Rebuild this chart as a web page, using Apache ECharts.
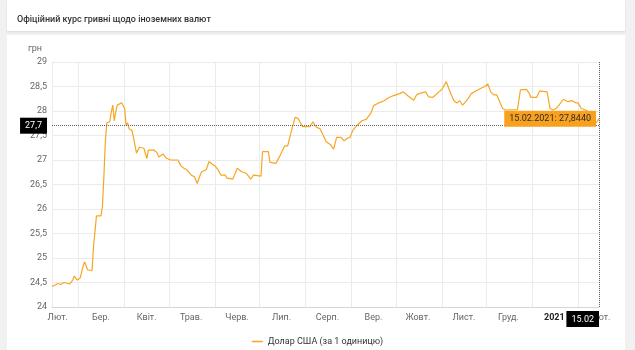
<!DOCTYPE html>
<html><head><meta charset="utf-8">
<script src="https://cdn.jsdelivr.net/npm/echarts@6/dist/echarts.min.js"></script>
<style>
html,body{margin:0;padding:0;width:635px;height:350px;background:#f1f1f1;overflow:hidden;}
.card{position:absolute;left:7px;width:618px;background:#fff;}
#c1{top:0;height:31px;box-shadow:0 1px 2px rgba(0,0,0,0.10);}
#c2{top:35px;height:315px;}
#chart{position:absolute;left:0;top:0;width:635px;height:350px;}
</style></head>
<body>
<div class="card" id="c1"></div><div class="card" id="c2"></div>
<div id="chart"></div>
<script>
const titleText = 'Офіційний курс гривні щодо іноземних валют';
const seriesName = 'Долар США (за 1 одиницю)';
const unitName = 'грн';
const monthLabels = ['Січ.','Лют.','Бер.','Квіт.','Трав.','Черв.','Лип.','Серп.','Вер.','Жовт.','Лист.','Груд.'];
const xMin = '2020-02-12';
const xMax = '2021-02-15';
const yMin = 24, yMax = 29, yStep = 0.5;
const pointerValue = 27.7;

const dates = [
'2020-02-12','2020-02-16','2020-02-18','2020-02-20','2020-02-21','2020-02-24','2020-02-26','2020-02-27','2020-02-29',
'2020-03-02','2020-03-04','2020-03-05','2020-03-07','2020-03-10','2020-03-11','2020-03-13','2020-03-16','2020-03-17',
'2020-03-18','2020-03-19','2020-03-20','2020-03-22','2020-03-23','2020-03-24','2020-03-25','2020-03-26','2020-03-27',
'2020-03-30','2020-04-01','2020-04-02','2020-04-03','2020-04-04','2020-04-06','2020-04-07','2020-04-09','2020-04-11',
'2020-04-14','2020-04-16','2020-04-17','2020-04-21','2020-04-23','2020-04-24','2020-04-27','2020-04-29','2020-05-02',
'2020-05-07','2020-05-09','2020-05-11','2020-05-13','2020-05-16','2020-05-18','2020-05-20','2020-05-22','2020-05-23',
'2020-05-26','2020-05-28','2020-05-30','2020-06-01','2020-06-03','2020-06-05','2020-06-08','2020-06-09','2020-06-13',
'2020-06-16','2020-06-19','2020-06-22','2020-06-25','2020-06-27','2020-07-02','2020-07-03','2020-07-07','2020-07-08',
'2020-07-12','2020-07-15','2020-07-18','2020-07-20','2020-07-22','2020-07-25','2020-07-27','2020-07-30','2020-08-04',
'2020-08-06','2020-08-08','2020-08-11','2020-08-15','2020-08-18','2020-08-20','2020-08-22','2020-08-25','2020-08-27',
'2020-08-29','2020-08-31','2020-09-02','2020-09-05','2020-09-08','2020-09-11','2020-09-14','2020-09-16','2020-09-19',
'2020-09-23','2020-09-26','2020-09-29','2020-10-03','2020-10-06','2020-10-09','2020-10-13','2020-10-15','2020-10-17',
'2020-10-21','2020-10-23','2020-10-26','2020-10-30','2020-11-01','2020-11-04','2020-11-06','2020-11-09','2020-11-11',
'2020-11-13','2020-11-15','2020-11-18','2020-11-21','2020-11-24','2020-11-27','2020-11-30','2020-12-02','2020-12-04',
'2020-12-06','2020-12-08','2020-12-10','2020-12-12','2020-12-14','2020-12-22','2020-12-24','2020-12-25','2020-12-28',
'2020-12-30','2020-12-31','2021-01-04','2021-01-06','2021-01-11','2021-01-13','2021-01-15','2021-01-17','2021-01-19',
'2021-01-22','2021-01-23','2021-01-25','2021-01-28','2021-01-30','2021-02-01','2021-02-03','2021-02-06','2021-02-08',
'2021-02-11','2021-02-13','2021-02-15'
];
const rates = [
24.42,24.48,24.46,24.50,24.47,24.47,24.55,24.63,24.55,
24.59,24.84,24.92,24.76,24.74,25.23,25.86,25.86,26.05,
26.66,27.40,27.76,27.78,27.98,28.12,27.80,27.98,28.12,
28.17,28.05,27.70,27.76,27.64,27.60,27.45,27.14,27.26,
27.24,27.03,27.20,27.20,27.14,27.06,27.12,27.04,27.00,
27.00,26.88,26.83,26.80,26.69,26.66,26.52,26.70,26.76,
26.80,26.97,26.92,26.88,26.80,26.69,26.69,26.63,26.61,
26.83,26.76,26.73,26.61,26.69,26.67,27.17,27.17,26.95,
26.93,27.10,27.29,27.29,27.54,27.87,27.85,27.68,27.68,
27.78,27.68,27.63,27.37,27.31,27.22,27.46,27.46,27.39,
27.44,27.46,27.61,27.71,27.80,27.83,27.95,28.11,28.16,
28.21,28.27,28.31,28.35,28.39,28.31,28.22,28.33,28.36,
28.39,28.29,28.28,28.39,28.44,28.60,28.43,28.22,28.16,
28.21,28.12,28.22,28.36,28.41,28.46,28.50,28.55,28.39,
28.33,28.33,28.19,28.05,28.02,28.03,28.43,28.46,28.44,
28.36,28.28,28.28,28.41,28.39,28.05,28.02,28.05,28.12,
28.24,28.26,28.19,28.21,28.17,28.16,28.05,28.02,27.98,
27.70,27.76,27.844
];

function ts(s){ const p = s.split('-'); return new Date(+p[0], +p[1]-1, +p[2]).getTime(); }
const xMinMs = ts(xMin), xMaxMs = ts(xMax);
const startMonth = new Date(xMinMs).getMonth();
const lastDate = dates[dates.length-1], lastValue = rates[rates.length-1];
function fmtNum(v, d){ return (d == null ? String(v) : v.toFixed(d)).replace('.', ','); }
function fmtDate(s){ const p = s.split('-'); return p[2] + '.' + p[1] + '.' + p[0]; }

const chart = echarts.init(document.getElementById('chart'), null, {renderer:'canvas'});
const FONT = 'Roboto, "Noto Sans", sans-serif';
const FS = 9;
chart.setOption({
  animation: false,
  backgroundColor: 'transparent',
  textStyle: {fontFamily: FONT},
  title: {text: titleText, left: 12, top: 10, textStyle: {fontSize: 9, fontWeight: 500, color: '#333', fontFamily: FONT}},
  legend: {data: [seriesName], left: 'center', top: 332, icon: 'rect', itemWidth: 11, itemHeight: 1.5, itemGap: 4,
    textStyle: {fontSize: FS, color: '#333', fontFamily: FONT}},
  grid: {left: 52, right: 36, top: 62, bottom: 43},
  xAxis: {
    type: 'time', min: xMinMs, max: xMaxMs, splitNumber: 12,
    minInterval: 28*86400000, maxInterval: 31*86400000,
    axisLine: {lineStyle: {color: '#d6d6d6'}},
    axisTick: {show: false},
    splitLine: {show: true, lineStyle: {color: '#ebebeb'}},
    axisLabel: {
      fontSize: FS, color: '#666', margin: 6, fontFamily: FONT, showMinLabel: false, showMaxLabel: false,
      formatter: function (value) {
        const d = new Date(value);
        if (value <= xMinMs + 1000) return '';
        if (value >= xMaxMs - 3*86400000) return '';
        if (d.getMonth() === 0) return '{y|' + d.getFullYear() + '}';
        // first full month tick also carries the partial starting month label
        if (d.getMonth() === startMonth + 1 && d.getFullYear() === new Date(xMinMs).getFullYear())
          return '{p|' + monthLabels[startMonth] + '}{q|' + monthLabels[d.getMonth()] + '}';
        return '{m|' + monthLabels[d.getMonth()] + '}';
      },
      rich: {
        p: {padding: [0,24,0,0], fontSize: FS, color: '#666'},
        q: {fontSize: FS, color: '#666'},
        m: {padding: [0,0,0,44], fontSize: FS, color: '#666'},
        y: {padding: [0,0,0,44], fontSize: FS, color: '#222', fontWeight: 'bold'}
      }
    }
  },
  yAxis: {
    type: 'value', min: yMin, max: yMax, interval: yStep,
    name: unitName, nameLocation: 'end', nameGap: 9,
    nameTextStyle: {fontSize: FS, color: '#666', align: 'right', padding: [0, 10, 0, 0], fontFamily: FONT},
    axisLine: {show: false}, axisTick: {show: false},
    splitLine: {lineStyle: {color: '#ebebeb'}},
    axisLabel: {fontSize: FS, color: '#666', margin: 5, formatter: v => fmtNum(v), fontFamily: FONT}
  },
  series: [{
    type: 'line', name: seriesName,
    data: dates.map((d, i) => [ts(d), rates[i]]),
    showSymbol: false, symbol: 'none',
    lineStyle: {width: 1.2, color: '#f6a623'}, itemStyle: {color: '#f6a623'},
    markLine: {
      silent: true, symbol: ['none', 'none'], animation: false,
      lineStyle: {type: 'dotted', color: '#666', width: 1},
      label: {show: true},
      data: [
        {yAxis: pointerValue, label: {position: 'start', formatter: fmtNum(pointerValue), backgroundColor: '#000',
          color: '#fff', fontSize: FS, padding: [4, 5, 3, 5], distance: 5, fontFamily: FONT}},
        {xAxis: ts(lastDate), label: {position: 'start', formatter: lastDate.slice(8,10) + '.' + lastDate.slice(5,7),
          backgroundColor: '#000', color: '#fff', fontSize: FS, padding: [4, 5, 3, 5], distance: 4, align: 'right', fontFamily: FONT}}
      ]
    },
    markPoint: {
      silent: true, animation: false, symbol: 'circle', symbolSize: 2,
      itemStyle: {color: 'rgba(0,0,0,0)'},
      data: [{coord: [ts(lastDate), lastValue],
        label: {show: true, position: 'left', distance: 2,
          formatter: fmtDate(lastDate) + ': ' + fmtNum(lastValue, 4),
          backgroundColor: '#f7a11e', color: '#2b2b2b', fontSize: FS, padding: [4, 5, 3, 5], fontFamily: FONT}}]
    }
  }]
});
</script>
</body></html>
